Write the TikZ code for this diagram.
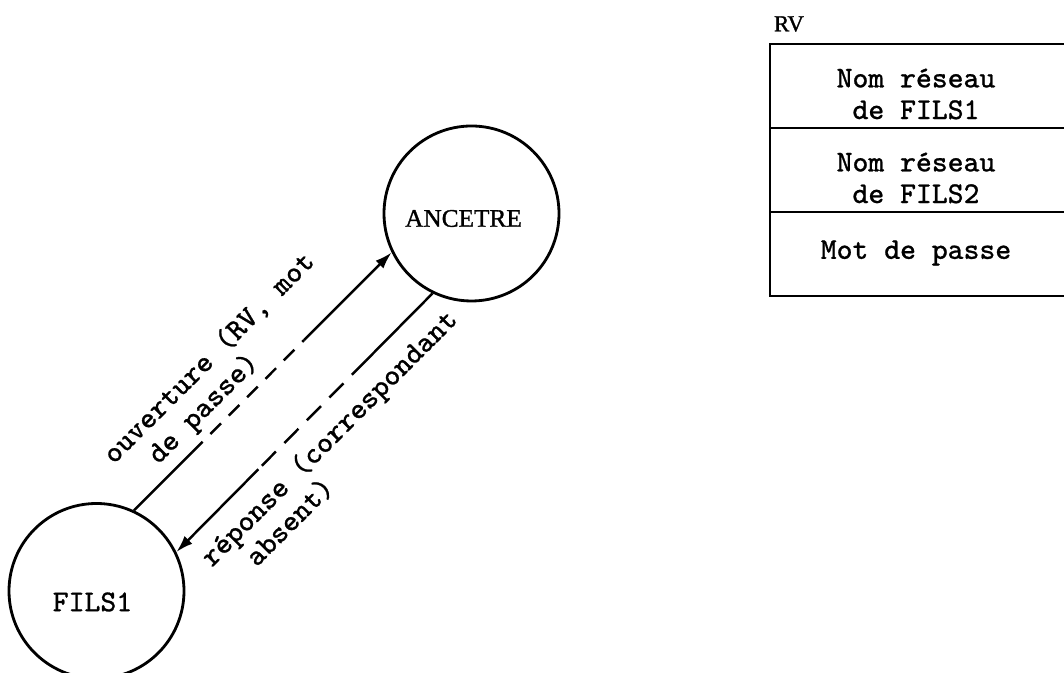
\documentclass[tikz,border=0pt]{standalone}
\usepackage{fontspec}
\newfontfamily\romrv{Liberation Serif}[FakeBold=1.2]
\newfontfamily\machfont{Latin Modern Mono}[FakeBold=0.8]
\usetikzlibrary{arrows.meta,positioning,calc}
\tikzset{
  etat/.style={draw, circle, line width=0.8pt, minimum size=17.5mm, inner sep=0pt},
  case/.style={minimum width=29.4mm, minimum height=8.4mm, inner sep=0pt, outer sep=0pt},
  cadre/.style={line width=0.8pt, line cap=rect},
  mach/.style={font=\machfont\fontsize{8.6}{9}\selectfont, inner sep=0pt},
  serif/.style={font=\romrv\fontsize{7.2}{8}\selectfont, inner sep=0pt},
  msg/.style={mach, rotate=45, align=left},
  trait/.style={line width=0.7pt},
  pointe/.style={-{Latex[length=1.7mm,width=1.1mm]}},
}
\begin{document}
\begin{tikzpicture}[x=0.1mm, y=-0.1mm]
  \useasboundingbox (0,0) rectangle (1064,673);
  % les deux processus
  \node[etat, label={[mach, shift={(-4,11)}]center:FILS1}] (fils) at (96.5,591) {};
  \node[etat, label={[serif, shift={(-8,5)}]center:ANCETRE}] (anc) at (471.5,213.5) {};
  % ouverture : FILS1 -> ANCETRE
  \coordinate (o1) at ($(fils.65)!0.225!(anc.206)$);
  \coordinate (o2) at ($(fils.65)!0.66!(anc.206)$);
  \draw[trait] (fils.65) -- (o1);
  \draw[trait, dash pattern=on 1.5mm off 1.1mm] (o1) -- (o2);
  \draw[trait, pointe] (o2) -- (anc.206);
  \node[msg] (ouv) at (221,370) {ouverture (RV, mot\\\phantom{xx}de passe)};
  % reponse : ANCETRE -> FILS1
  \coordinate (r1) at ($(anc.244)!0.26!(fils.26)$);
  \coordinate (r2) at ($(anc.244)!0.68!(fils.26)$);
  \draw[trait] (anc.244) -- (r1);
  \draw[trait, dash pattern=on 2mm off 1.2mm] (r1) -- (r2);
  \draw[trait, pointe] (r2) -- (fils.26);
  \node[msg] (rep) at (340,449) {réponse (correspondant\\\phantom{xx}absent)};
  % le rendez-vous RV (coupe au bord droit)
  \node[serif, font=\romrv\fontsize{6.5}{7}\selectfont] (rv) at (789,24) {RV};
  \node[case] (c1) at (917,86) {};
  \node[case, below=0pt of c1] (c2) {};
  \node[case, below=0pt of c2] (c3) {};
  \draw[cadre] (c1.north east) -- (c1.north west) -- (c3.south west) -- (c3.south east);
  \draw[cadre] (c1.south west) -- (c1.south east);
  \draw[cadre] (c2.south west) -- (c2.south east);
  \node[mach, align=center] (t1) at (916,94) {Nom réseau\\de FILS1};
  \node[mach, align=center] (t2) at (916,178) {Nom réseau\\de FILS2};
  \node[mach] (t3) at (916,253) {Mot de passe};
\end{tikzpicture}
\end{document}
